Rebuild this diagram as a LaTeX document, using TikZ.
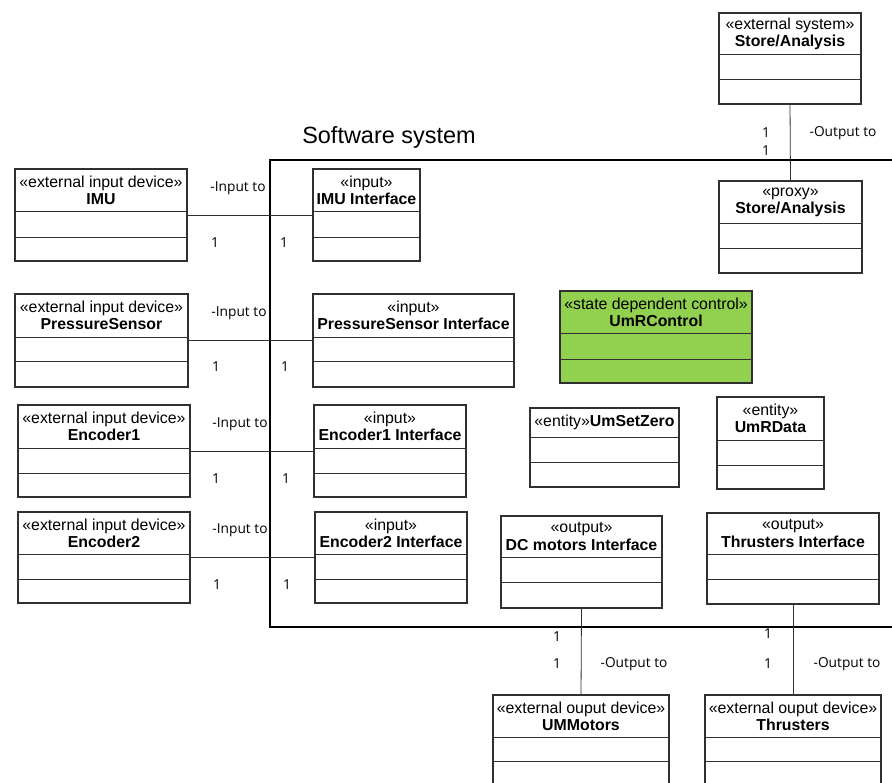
\documentclass[tikz,border=0pt]{standalone}
\usepackage{fontspec}
\setmainfont{Liberation Sans}
\newfontfamily\lblfont{Open Sans}
\definecolor{umgreen}{HTML}{92D050}
\definecolor{lineclr}{HTML}{303030}
\tikzset{
  cls/.style={draw=lineclr, line width=0.8pt, inner sep=0pt, outer sep=0pt, rectangle},
  div/.style={draw=lineclr, line width=0.7pt},
  hdr/.style={align=center, inner sep=0pt, font=\fontsize{11.9}{12.9}\selectfont},
  conn/.style={draw=lineclr, line width=0.6pt},
  lbl/.style={inner sep=0pt, font=\lblfont\fontsize{10.3}{11}\selectfont},
  framebox/.style={draw=black, line width=1.1pt},
}
\newcommand\umlclass[9][]{%
  \node[cls,#1,anchor=north west,minimum width={(#5-#3)*0.75pt},minimum height={(#6-#4)*0.75pt}] (#2) at (#3,#4) {};
  \draw[div] (#3,#7) -- (#5,#7);
  \draw[div] (#3,#8) -- (#5,#8);
  \node[hdr] (#2-h) at ({(#3+#5)/2},{(#4+#7)/2}) {#9};
}
\begin{document}
\begin{tikzpicture}[x=0.75pt,y=-0.75pt]
\useasboundingbox[fill=white] (0,0) rectangle (892,782);
\clip (0,0) rectangle (892,782);
% frame
\draw[framebox] (895,160) -- (270,160) -- (270,627) -- (895,627);
\node[inner sep=0pt, font=\fontsize{17.6}{20}\selectfont] (title) at (389,137) {Software system};
% external input devices
\umlclass{imu}{15}{169}{187}{261}{211}{237}{«external input device»\\\textbf{IMU}}
\umlclass{ps}{15}{294}{188}{387}{337}{361}{«external input device»\\\textbf{PressureSensor}}
\umlclass{enc1}{18}{405}{190}{497}{448}{473}{«external input device»\\\textbf{Encoder1}}
\umlclass{enc2}{18}{512}{190}{603}{554}{579}{«external input device»\\\textbf{Encoder2}}
% input interfaces
\umlclass{imui}{313}{169}{420}{261}{211}{237}{«input»\\\textbf{IMU Interface}}
\umlclass{psi}{313}{294}{514}{387}{337}{361}{«input»\\\textbf{PressureSensor Interface}}
\umlclass{enc1i}{314}{405}{466}{497}{448}{473}{«input»\\\textbf{Encoder1 Interface}}
\umlclass{enc2i}{315}{512}{467}{603}{554}{579}{«input»\\\textbf{Encoder2 Interface}}
% store / analysis
\umlclass{store}{719}{13}{861}{104}{54}{79}{«external system»\\\textbf{Store/Analysis}}
\umlclass{proxy}{719}{181}{862}{273}{223}{248}{«proxy»\\\textbf{Store/Analysis}}
% control and entities
\umlclass[fill=umgreen]{ctrl}{560}{291}{752}{383}{333}{359}{«state dependent control»\\\textbf{UmRControl}}
\umlclass{setzero}{530}{408}{679}{487}{437}{462}{«entity»\textbf{UmSetZero}}
\umlclass{rdata}{717}{397}{824}{489}{440}{465}{«entity»\\\textbf{UmRData}}
% output interfaces
\umlclass{dci}{501}{516}{662}{608}{557}{582}{«output»\\\textbf{DC motors Interface}}
\umlclass{thi}{707}{513}{879}{604}{554}{579}{«output»\\\textbf{Thrusters Interface}}
% external output devices
\umlclass{umm}{493}{695}{669}{787}{737}{761}{«external ouput device»\\\textbf{UMMotors}}
\umlclass{thr}{705}{695}{881}{787}{737}{761}{«external ouput device»\\\textbf{Thrusters}}
% connectors
\draw[conn] (imu.east) -- (imui.west);
\draw[conn] (ps.east) -- (psi.west);
\draw[conn] (enc1.east) -- (enc1i.west);
\draw[conn] (enc2.east) -- (enc2i.west);
\draw[conn] (store.south) -- (proxy.north);
\draw[conn] (dci.south) -- (umm.north);
\draw[conn] (thi.south) -- (thr.north);
% labels
\node[lbl] (l1) at (238,188) {-Input to};
\node[lbl] (l2) at (239,313) {-Input to};
\node[lbl] (l3) at (240,424) {-Input to};
\node[lbl] (l4) at (240,530) {-Input to};
\node[lbl] at (215,243) {1};
\node[lbl] at (284,243) {1};
\node[lbl] at (216,367) {1};
\node[lbl] at (285,367) {1};
\node[lbl] at (216,479) {1};
\node[lbl] at (286,479) {1};
\node[lbl] at (217,585) {1};
\node[lbl] at (287,585) {1};
\node[lbl] at (766,133) {1};
\node[lbl] at (766,151) {1};
\node[lbl] (l5) at (843,133) {-Output to};
\node[lbl] at (557,637) {1};
\node[lbl] at (557,664) {1};
\node[lbl] (l6) at (634,664) {-Output to};
\node[lbl] at (768,634) {1};
\node[lbl] at (768,664) {1};
\node[lbl] (l7) at (847,664) {-Output to};
\end{tikzpicture}
\end{document}
